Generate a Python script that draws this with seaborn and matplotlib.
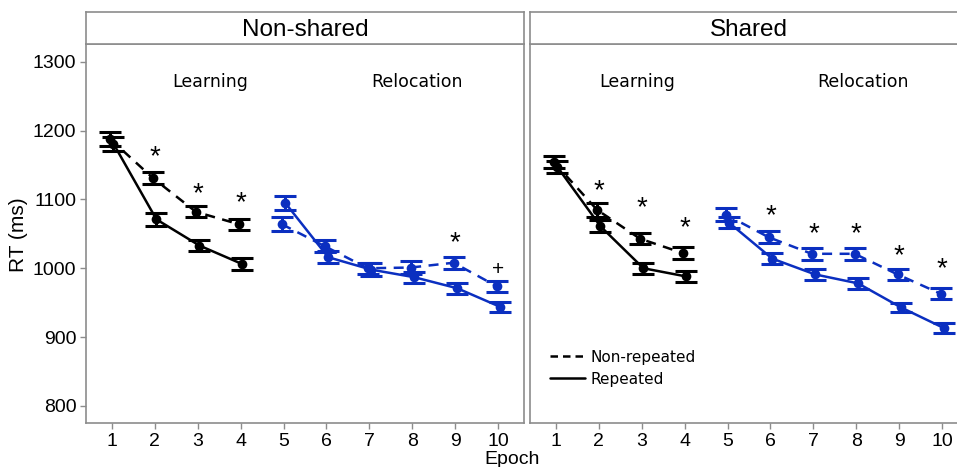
import numpy as np
import pandas as pd
import matplotlib
matplotlib.use("Agg")
import matplotlib.pyplot as plt
import seaborn as sns
from matplotlib.lines import Line2D

# ==========================================
# Data
# ==========================================
epochs = [1, 2, 3, 4, 5, 6, 7, 8, 9, 10]
panels = ["Non-shared", "Shared"]

ns_nonrep = [1188, 1131, 1082, 1064, 1064, 1032, 1000, 1001, 1008, 974]
ns_rep = [1181, 1071, 1033, 1006, 1095, 1016, 998, 987, 971, 944]
ns_nonrep_se = [10, 9, 8, 8, 10, 9, 8, 9, 9, 8]
ns_rep_se = [10, 9, 8, 9, 10, 9, 9, 8, 8, 7]

sh_nonrep = [1154, 1085, 1043, 1022, 1078, 1045, 1021, 1021, 991, 963]
sh_rep = [1147, 1061, 1000, 988, 1066, 1014, 991, 978, 943, 913]
sh_nonrep_se = [9, 10, 8, 9, 9, 9, 9, 9, 8, 8]
sh_rep_se = [9, 9, 8, 8, 8, 8, 8, 8, 7, 7]

# significance marks
ns_sig_epochs = [2, 3, 4, 9, 10]
ns_sig_marks = ["*", "*", "*", "*", "+"]
ns_sig_y = [1162, 1108, 1094, 1037, 998]
sh_sig_epochs = [2, 3, 4, 6, 7, 8, 9, 10]
sh_sig_marks = ["*", "*", "*", "*", "*", "*", "*", "*"]
sh_sig_y = [1112, 1087, 1058, 1075, 1049, 1049, 1018, 998]

phase_labels = ["Learning", "Relocation"]
phase_x = {"Non-shared": [3.3, 8.1], "Shared": [2.9, 8.15]}
phase_y = 1271

BLACK = "black"
BLUE = "#0b2fc0"
EDGE = "#8c8c8c"

rows = []
for panel, nonrep, rep, nse, rse in [
    ("Non-shared", ns_nonrep, ns_rep, ns_nonrep_se, ns_rep_se),
    ("Shared", sh_nonrep, sh_rep, sh_nonrep_se, sh_rep_se),
]:
    for i, ep in enumerate(epochs):
        phase = "Learning" if ep <= 4 else "Relocation"
        rows.append([panel, ep, phase, "Non-repeated", nonrep[i], nse[i]])
        rows.append([panel, ep, phase, "Repeated", rep[i], rse[i]])
df = pd.DataFrame(rows, columns=["panel", "epoch", "phase", "cond", "rt", "se"])
df["x"] = df["epoch"] + np.where(df["cond"] == "Non-repeated", -0.04, 0.04)

sns.set_theme(style="white")
plt.rcParams["font.family"] = ["Liberation Sans", "DejaVu Sans"]
plt.rcParams["text.color"] = "black"
plt.rcParams["xtick.labelcolor"] = "black"
plt.rcParams["ytick.labelcolor"] = "black"

W, H = 957, 467
fig = plt.figure(figsize=(W / 100, H / 100), dpi=100)

panel_left = {"Non-shared": 86, "Shared": 530}
pw = 438
top, bottom, strip_top = 44, 423, 12

for panel in panels:
    x0 = panel_left[panel]
    ax = fig.add_axes([x0 / W, (H - bottom) / H, pw / W, (bottom - top) / H])
    sax = fig.add_axes([x0 / W, (H - top) / H, pw / W, (top - strip_top) / H])
    sax.set_xticks([])
    sax.set_yticks([])
    for s in sax.spines.values():
        s.set_color(EDGE)
        s.set_linewidth(1.2)
    sax.text(0.5, 0.45, panel, ha="center", va="center", fontsize=17.5,
             transform=sax.transAxes)

    sub = df[df["panel"] == panel]
    for phase, col in [("Learning", BLACK), ("Relocation", BLUE)]:
        for cond, ls in [("Non-repeated", (0, (4, 3))), ("Repeated", "-")]:
            d = sub[(sub["phase"] == phase) & (sub["cond"] == cond)]
            ax.errorbar(d["x"], d["rt"], yerr=d["se"], fmt="none", ecolor=col,
                        elinewidth=2.2, capsize=8, capthick=2.2, zorder=2)
            sns.lineplot(data=d, x="x", y="rt", ax=ax, color=col, linewidth=1.8,
                         linestyle=ls, marker="o", markersize=7,
                         markeredgewidth=0, zorder=3, legend=False)
            ax.lines[-1].set_linestyle(ls)

    if panel == "Non-shared":
        sig_e, sig_m, sig_y = ns_sig_epochs, ns_sig_marks, ns_sig_y
    else:
        sig_e, sig_m, sig_y = sh_sig_epochs, sh_sig_marks, sh_sig_y
    for e, m, yv in zip(sig_e, sig_m, sig_y):
        ax.text(e, yv, m, ha="center", va="center",
                fontsize=20 if m == "*" else 15, color="black")

    for lab, px in zip(phase_labels, phase_x[panel]):
        ax.text(px, phase_y, lab, ha="center", va="center", fontsize=12.5,
                family="DejaVu Sans")

    ax.set_xlim(0.4, 10.6)
    ax.set_ylim(775, 1326)
    ax.set_xticks(epochs)
    ax.set_yticks([800, 900, 1000, 1100, 1200, 1300])
    ax.set_xlabel("")
    ax.set_ylabel("")
    ax.tick_params(axis="both", which="both", length=4, width=1, color=EDGE,
                   labelsize=14, pad=3, direction="out", bottom=True, left=True)
    for s in ax.spines.values():
        s.set_color(EDGE)
        s.set_linewidth(1.2)
    if panel == "Shared":
        ax.set_yticklabels([])
        ax.tick_params(axis="y", length=0)
        handles = [
            Line2D([], [], color="black", linestyle=(0, (3, 2)), linewidth=1.8),
            Line2D([], [], color="black", linestyle="-", linewidth=1.8),
        ]
        ax.legend(handles, ["Non-repeated", "Repeated"], loc="lower left",
                  bbox_to_anchor=(0.015, 0.06), frameon=False, handlelength=2.3,
                  handletextpad=0.3, labelspacing=0.45,
                  prop={"family": "DejaVu Sans", "size": 11})

fig.text(18 / W, 1 - 235 / H, "RT (ms)", rotation=90, ha="center",
         va="center", fontsize=15)
fig.text(512 / W, 1 - 459 / H, "Epoch", ha="center", va="center", fontsize=14)

fig.savefig("out.png", dpi=100)
